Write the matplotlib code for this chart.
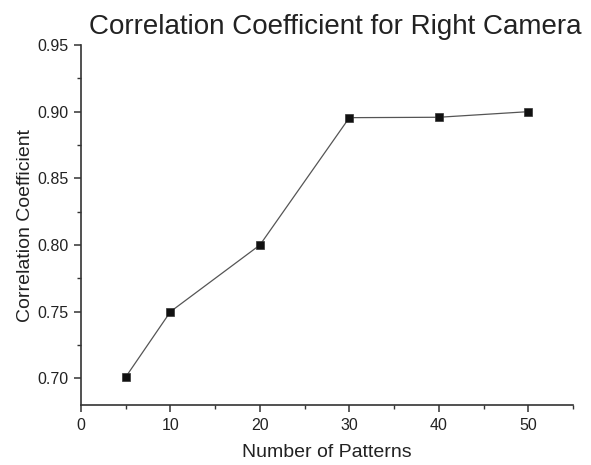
import matplotlib
matplotlib.use("Agg")
import matplotlib.pyplot as plt
from matplotlib.ticker import MultipleLocator

# data
patterns = [5, 10, 20, 30, 40, 50]
corr = [0.701, 0.750, 0.800, 0.8955, 0.8958, 0.900]

plt.rcParams["font.family"] = ["Liberation Sans", "DejaVu Sans"]
text_col = "#222222"

fig = plt.figure(figsize=(5.91, 4.65), dpi=100)
fig.patch.set_facecolor("white")
ax = fig.add_axes([81 / 591, 1 - 405 / 465, (573 - 81) / 591, (405 - 45) / 465])

ax.plot(patterns, corr, "-", color="#555555", linewidth=0.9, zorder=2)
ax.plot(patterns, corr, "s", color="#111111", markersize=6,
        markeredgecolor="#333333", markeredgewidth=0.5, zorder=3)

ax.set_xlim(0, 55)
ax.set_ylim(0.68, 0.95)
ax.xaxis.set_major_locator(MultipleLocator(10))
ax.xaxis.set_minor_locator(MultipleLocator(5))
ax.yaxis.set_major_locator(MultipleLocator(0.05))
ax.yaxis.set_minor_locator(MultipleLocator(0.025))
ax.yaxis.set_major_formatter(plt.FormatStrFormatter("%.2f"))

for side in ["top", "right"]:
    ax.spines[side].set_visible(False)
for side in ["left", "bottom"]:
    ax.spines[side].set_color("#333333")
    ax.spines[side].set_linewidth(1.2)

ax.tick_params(which="major", direction="out", length=5, width=1.1,
               colors="#333333", labelcolor=text_col, labelsize=11.5, pad=4)
ax.tick_params(which="minor", direction="out", length=3, width=1.0, colors="#333333")

ax.set_xlabel("Number of Patterns", fontsize=14, color=text_col, labelpad=8)
ax.set_ylabel("Correlation Coefficient", fontsize=14, color=text_col, labelpad=2)

fig.text(335.5 / 591, 1 - 27 / 465, "Correlation Coefficient for Right Camera",
         fontsize=20, color=text_col, ha="center", va="center")

fig.savefig("out.png", dpi=100, facecolor="white")
